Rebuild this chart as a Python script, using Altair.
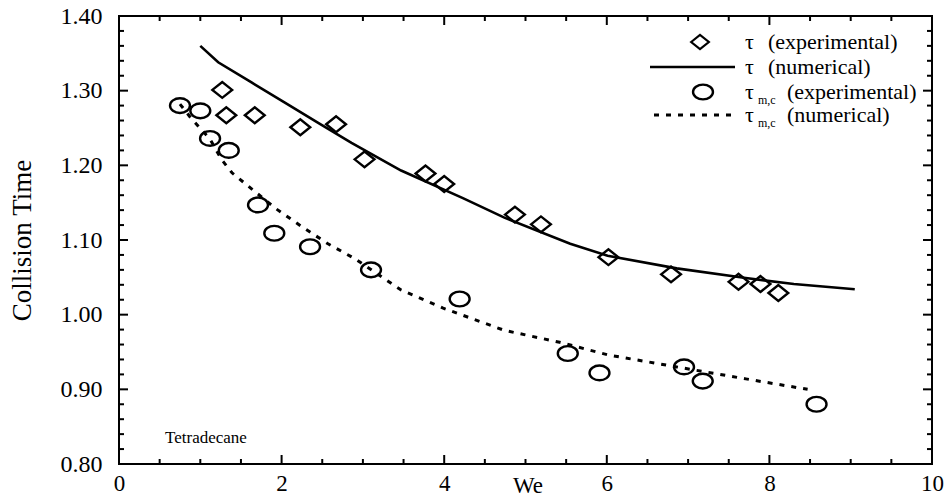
import altair as alt
import pandas as pd

# ---------------- data ----------------
we_tau_exp = [1.27, 1.32, 1.67, 2.23, 2.67, 3.02, 3.77, 4.00, 4.87, 5.19, 6.02, 6.79, 7.62, 7.89, 8.11]
tau_exp = [1.301, 1.267, 1.267, 1.251, 1.255, 1.208, 1.189, 1.175, 1.134, 1.121, 1.077, 1.054, 1.044, 1.041, 1.029]

we_tau_num = [1.00, 1.22, 1.63, 2.04, 2.45, 2.86, 3.47, 4.23, 4.74, 5.55, 6.01, 6.86, 7.71, 8.30, 9.05]
tau_num = [1.360, 1.338, 1.311, 1.284, 1.257, 1.230, 1.193, 1.156, 1.130, 1.095, 1.079, 1.062, 1.049, 1.041, 1.034]

we_tmc_exp = [0.75, 1.00, 1.12, 1.35, 1.71, 1.91, 2.35, 3.10, 4.19, 5.52, 5.91, 6.95, 7.18, 8.58]
tmc_exp = [1.280, 1.273, 1.236, 1.220, 1.147, 1.109, 1.091, 1.060, 1.021, 0.948, 0.922, 0.930, 0.911, 0.880]

we_tmc_num = [0.75, 0.88, 1.12, 1.26, 1.39, 1.67, 1.93, 2.26, 2.57, 2.90, 3.47, 3.98, 4.74, 5.42, 6.02, 6.86, 7.71, 8.47]
tmc_num = [1.282, 1.264, 1.235, 1.208, 1.190, 1.165, 1.142, 1.117, 1.095, 1.075, 1.033, 1.009, 0.979, 0.963, 0.946, 0.930, 0.914, 0.900]

x_major = [0, 2, 4, 6, 8, 10]
x_minor = [0.5, 1, 1.5, 2.5, 3, 3.5, 4.5, 5, 5.5, 6.5, 7, 7.5, 8.5, 9, 9.5]
y_major = [0.8, 0.9, 1.0, 1.1, 1.2, 1.3, 1.4]
y_minor = [0.82, 0.84, 0.86, 0.88, 0.92, 0.94, 0.96, 0.98, 1.02, 1.04, 1.06, 1.08,
           1.12, 1.14, 1.16, 1.18, 1.22, 1.24, 1.26, 1.28, 1.32, 1.34, 1.36, 1.38]

x_title = "We"
y_title = "Collision Time"
note = "Tetradecane"
legend_sym = "τ"
legend_sub = "m,c"
legend_exp = "(experimental)"
legend_num = "(numerical)"

# ---------------- layout / style ----------------
FONT = "Liberation Serif"
W, H = 813, 448
PAD = {"left": 119, "top": 16, "right": 12, "bottom": 36}
MAJ, MIN = 9, 5

xs = alt.Scale(domain=[0, 10], nice=False, zero=False)
ys = alt.Scale(domain=[0.8, 1.4], nice=False, zero=False)

x_axis = alt.Axis(values=x_major, ticks=False, domain=False, grid=False, labelFlush=False,
                  labelPadding=8, labelFont=FONT, labelFontSize=23, labelColor="black",
                  title=x_title, titleFont=FONT, titleFontSize=23, titleFontWeight="normal",
                  titleColor="black", titleX=W / 2 + 2, titleY=33, titleBaseline="bottom")
y_axis = alt.Axis(values=y_major, ticks=False, domain=False, grid=False, format=".2f",
                  labelPadding=17, labelFont=FONT, labelFontSize=24, labelColor="black",
                  title=y_title, titleFont=FONT, titleFontSize=27, titleFontWeight="normal",
                  titleColor="black", titleX=-97, titleY=H / 2, titleAngle=-90,
                  titleAlign="center", titleBaseline="middle")

X = alt.X("We:Q", scale=xs, axis=x_axis)
Y = alt.Y("v:Q", scale=ys, axis=y_axis)

df_te = pd.DataFrame({"We": we_tau_exp, "v": tau_exp})
df_tn = pd.DataFrame({"We": we_tau_num, "v": tau_num})
df_me = pd.DataFrame({"We": we_tmc_exp, "v": tmc_exp})
df_mn = pd.DataFrame({"We": we_tmc_num, "v": tmc_num})

DIAMOND = "M -1.25,0 L 0,-1 L 1.25,0 L 0,1 Z"
ELLIPSE = "M -1.15,0 A 1.15,0.85 0 1,0 1.15,0 A 1.15,0.85 0 1,0 -1.15,0 Z"

solid = alt.Chart(df_tn).mark_line(color="black", strokeWidth=2.6).encode(x=X, y=Y)
dotted = alt.Chart(df_mn).mark_line(color="black", strokeWidth=3, strokeDash=[5, 7]).encode(x=X, y=Y)
diamonds = alt.Chart(df_te).mark_point(shape=DIAMOND, size=250, filled=False, color="black",
                                       strokeWidth=2.4, opacity=1).encode(x=X, y=Y)
circles = alt.Chart(df_me).mark_point(shape=ELLIPSE, size=300, filled=False, color="black",
                                      strokeWidth=2.4, opacity=1).encode(x=X, y=Y)


# ---------------- inward ticks on all four sides ----------------
def xticks(vals, length):
    base = alt.Chart(pd.DataFrame({"We": vals})).mark_rule(color="black", strokeWidth=2)
    return [base.encode(x=X, y=alt.value(H), y2=alt.value(H - length)),
            base.encode(x=X, y=alt.value(0), y2=alt.value(length))]


def yticks(vals, length):
    base = alt.Chart(pd.DataFrame({"v": vals})).mark_rule(color="black", strokeWidth=2)
    return [base.encode(y=Y, x=alt.value(0), x2=alt.value(length)),
            base.encode(y=Y, x=alt.value(W), x2=alt.value(W - length))]


ticks = xticks(x_major, MAJ) + xticks(x_minor, MIN) + yticks(y_major, MAJ) + yticks(y_minor, MIN)

# ---------------- legend (drawn by hand) ----------------
LX_SYM, LX_LINE0, LX_LINE1, LX_TXT = 581, 531, 616, 626
ROWS = [26, 51, 76, 99]
TXT = dict(font=FONT, fontSize=22, color="black", align="left", baseline="middle")
SUB = dict(font=FONT, fontSize=12, color="black", align="left", baseline="middle")

leg = [
    alt.Chart().mark_point(shape=DIAMOND, size=200, filled=False, color="black",
                           strokeWidth=2.2, opacity=1).encode(x=alt.value(LX_SYM), y=alt.value(ROWS[0])),
    alt.Chart().mark_rule(color="black", strokeWidth=2.6).encode(
        x=alt.value(LX_LINE0), x2=alt.value(LX_LINE1), y=alt.value(ROWS[1])),
    alt.Chart().mark_point(shape=ELLIPSE, size=300, filled=False, color="black",
                           strokeWidth=2.4, opacity=1).encode(x=alt.value(LX_SYM + 3), y=alt.value(ROWS[2])),
    alt.Chart().mark_rule(color="black", strokeWidth=3, strokeDash=[5, 7]).encode(
        x=alt.value(LX_LINE0 + 4), x2=alt.value(LX_LINE1), y=alt.value(ROWS[3])),
    alt.Chart().mark_text(text=legend_sym, **TXT).encode(x=alt.value(LX_TXT), y=alt.value(ROWS[0])),
    alt.Chart().mark_text(text=legend_exp, **TXT).encode(x=alt.value(LX_TXT + 23), y=alt.value(ROWS[0])),
    alt.Chart().mark_text(text=legend_sym, **TXT).encode(x=alt.value(LX_TXT), y=alt.value(ROWS[1])),
    alt.Chart().mark_text(text=legend_num, **TXT).encode(x=alt.value(LX_TXT + 23), y=alt.value(ROWS[1])),
    alt.Chart().mark_text(text=legend_sym, **TXT).encode(x=alt.value(LX_TXT), y=alt.value(ROWS[2])),
    alt.Chart().mark_text(text=legend_sub, **SUB).encode(x=alt.value(LX_TXT + 13), y=alt.value(ROWS[2] + 8)),
    alt.Chart().mark_text(text=legend_exp, **TXT).encode(x=alt.value(LX_TXT + 42), y=alt.value(ROWS[2])),
    alt.Chart().mark_text(text=legend_sym, **TXT).encode(x=alt.value(LX_TXT), y=alt.value(ROWS[3])),
    alt.Chart().mark_text(text=legend_sub, **SUB).encode(x=alt.value(LX_TXT + 13), y=alt.value(ROWS[3] + 8)),
    alt.Chart().mark_text(text=legend_num, **TXT).encode(x=alt.value(LX_TXT + 42), y=alt.value(ROWS[3])),
    alt.Chart().mark_text(text=note, font=FONT, fontSize=17, color="black", align="left",
                          baseline="middle").encode(x=alt.value(46), y=alt.value(H - 26)),
]

chart = alt.layer(solid, dotted, diamonds, circles, *ticks, *leg).properties(
    width=W, height=H, padding=PAD, autosize=alt.AutoSizeParams(type="none"),
    background="white",
).configure_view(stroke="black", strokeWidth=2)

chart.save("out.html", embed_options={"renderer": "svg", "actions": False})
